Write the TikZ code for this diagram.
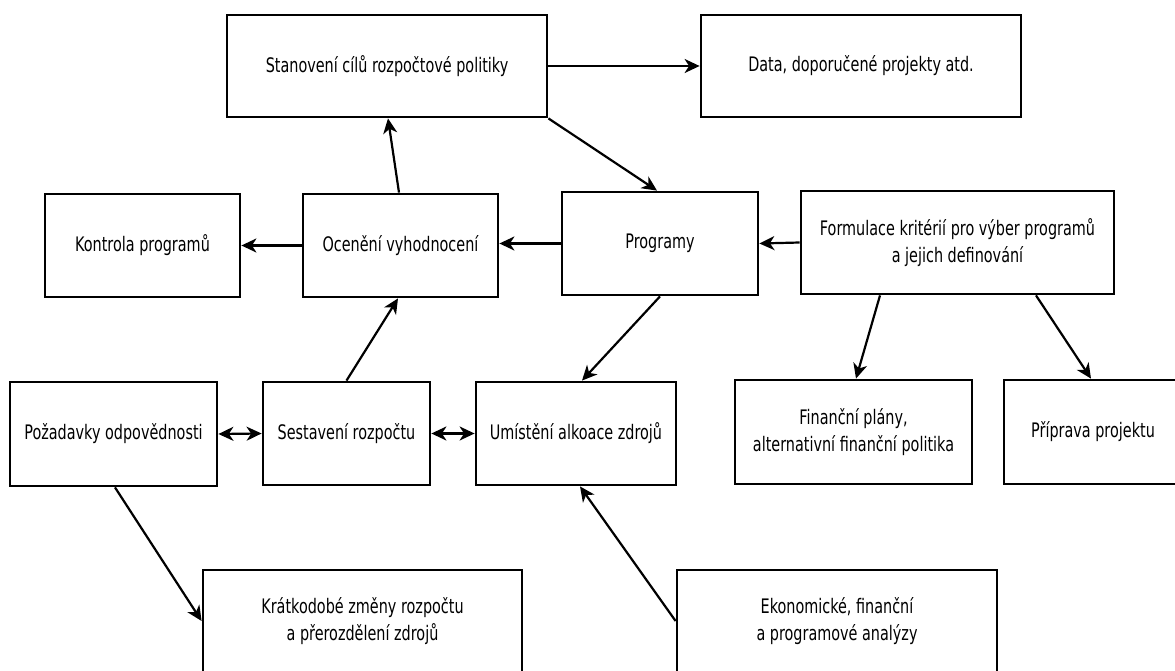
\documentclass[tikz,border=0pt]{standalone}
\usepackage{fontspec}
\setmainfont{DejaVu Sans}[FakeStretch=0.72]
\usetikzlibrary{arrows.meta,calc}
\begin{document}
\begin{tikzpicture}[x=1pt,y=-1pt,
  box/.style={draw, line width=2.8pt, inner sep=0pt, align=center,
    font=\fontsize{20}{27}\selectfont},
  arr/.style={line width=2.2pt, -{Stealth[length=15pt,width=14pt,inset=4.5pt]}},
  darr/.style={line width=2.2pt, {Stealth[length=15pt,width=14pt,inset=4.5pt]}-{Stealth[length=15pt,width=14pt,inset=4.5pt]}}]
\useasboundingbox (0,0) rectangle (1175,671);
\clip (0,0) rectangle (1175,671);
\fill[white] (0,0) rectangle (1175,671);
% nodes
\node[box, minimum width=320pt, minimum height=102pt] (stan) at (387,66) {Stanovení cílů rozpočtové politiky};
\node[box, minimum width=320pt, minimum height=102pt] (data) at (861,66) {Data, doporučené projekty atd.};
\node[box, minimum width=195pt, minimum height=103pt] (kontrola) at (142.5,245.5) {Kontrola programů};
\node[box, minimum width=195pt, minimum height=103pt] (oceneni) at (400.5,245.5) {Ocenění vyhodnocení};
\node[box, minimum width=196pt, minimum height=103pt] (programy) at (660,243.5) {Programy};
\node[box, minimum width=313pt, minimum height=103pt] (formulace) at (957.5,242.5) {Formulace kritérií pro výber programů\\a jejich definování};
\node[box, minimum width=207pt, minimum height=104pt] (pozadavky) at (113.5,434) {Požadavky odpovědnosti};
\node[box, minimum width=167pt, minimum height=103pt] (sestaveni) at (346.5,433.5) {Sestavení rozpočtu};
\node[box, minimum width=200pt, minimum height=103pt] (umisteni) at (576,433.5) {Umístění alkoace zdrojů};
\node[box, minimum width=237pt, minimum height=104pt] (financni) at (853.5,432) {Finanční plány,\\alternativní finanční politika};
\node[box, minimum width=178pt, minimum height=104pt] (priprava) at (1093,432) {Příprava projektu};
\node[box, minimum width=319pt, minimum height=102pt] (kratkodobe) at (362.5,621) {Krátkodobé změny rozpočtu\\a přerozdělení zdrojů};
\node[box, minimum width=320pt, minimum height=102pt] (ekonomicke) at (837,621) {Ekonomické, finanční\\a programové analýzy};
% connectors
\draw[arr] (stan.east) -- (data.west);
\draw[arr] (stan.south east) -- ([xshift=-3pt]programy.north);
\draw[arr] ([xshift=-1.5pt]oceneni.north) -- ([xshift=1pt]stan.south);
\draw[arr] (oceneni.west) -- (kontrola.east);
\draw[arr] (programy.west) -- (programy.west -| oceneni.east);
\draw[arr] (formulace.west) -- (programy.east);
\draw[arr] (programy.south) -- ([xshift=6pt]umisteni.north);
\draw[arr] ([xshift=-77.5pt]formulace.south) -- ([xshift=2.5pt]financni.north);
\draw[arr] ([xshift=78.5pt]formulace.south) -- ([xshift=-2pt]priprava.north);
\draw[arr] (sestaveni.north) -- ([xshift=-2.5pt]oceneni.south);
\draw[darr] (pozadavky.east) -- (sestaveni.west);
\draw[darr] (sestaveni.east) -- (umisteni.west);
\draw[arr] ([xshift=1.5pt]pozadavky.south) -- (kratkodobe.west);
\draw[arr] (ekonomicke.west) -- ([xshift=4pt]umisteni.south);
\end{tikzpicture}
\end{document}
